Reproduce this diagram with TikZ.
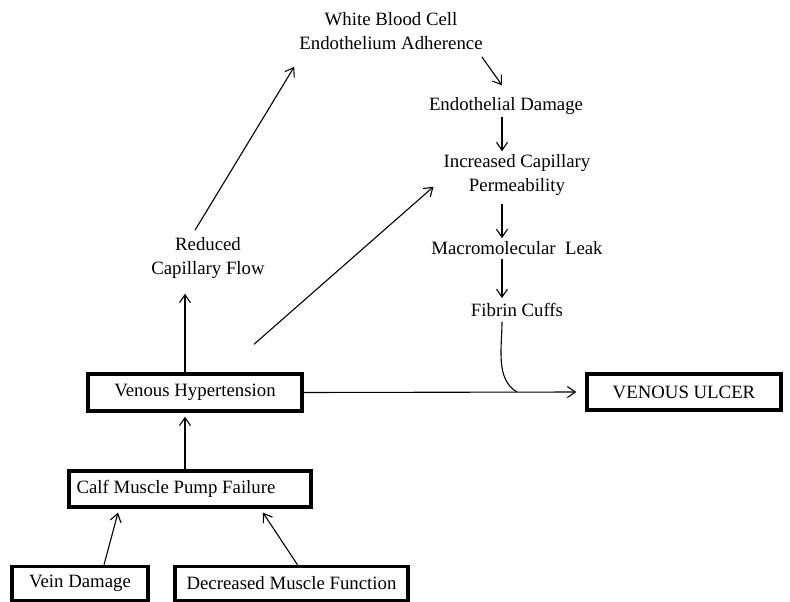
\documentclass[tikz,border=0pt]{standalone}
\usepackage{fontspec}
\setmainfont{Liberation Serif}
\usepackage{tikz}
\usetikzlibrary{arrows.meta, positioning, calc}

\begin{document}
\begin{tikzpicture}[x=1pt, y=1pt]
  \tikzstyle{boxnode}=[rectangle, draw, line width=3.4pt, minimum height=34pt,
    inner sep=0pt, text centered, font=\rmfamily\fontsize{18.8}{24}\selectfont]
  \tikzstyle{plain}=[inner sep=0pt, align=center, font=\rmfamily\fontsize{18.8}{24}\selectfont]
  \tikzstyle{arr}=[-{Straight Barb[length=8pt, width=11pt]}, line width=1.1pt]
  \useasboundingbox (0,0) rectangle (790,602);
  \node[boxnode, minimum width=136pt] (vd) at (80,18.5) {Vein Damage};
  \node[boxnode, minimum width=233pt] (dmf) at (291.5,18.5) {Decreased Muscle Function};
  \node[boxnode, minimum width=242pt, minimum height=36pt] (calf) at (190,113)
    {\hspace*{-28pt}Calf Muscle Pump Failure};
  \node[boxnode, minimum width=214pt, minimum height=37pt] (vh) at (195,209.5)
    {Venous Hypertension};
  \node[boxnode, minimum width=194pt, minimum height=36pt] (ulcer) at (684,210)
    {VENOUS ULCER};
  \node[plain] (rcf) at (208,344) {Reduced\\Capillary Flow};
  \node[plain] (wbc) at (391,571) {White Blood Cell\\Endothelium Adherence};
  \node[plain] (ed) at (506,496) {Endothelial Damage};
  \node[plain] (icp) at (517,427) {Increased Capillary\\Permeability};
  \node[plain] (ml) at (517,354) {Macromolecular\ \ Leak};
  \node[plain] (fc) at (517,292) {Fibrin Cuffs};
  \coordinate (join) at (517,210);
  \draw[arr] ([shift={(24,0)}]vd.north) -- ([shift={(-72,-4)}]calf.south);
  \draw[arr] ([shift={(6,0)}]dmf.north) -- ([shift={(73,-4)}]calf.south);
  \draw[arr] ([shift={(-5,0)}]calf.north) -- ([shift={(-10,-4)}]vh.south);
  \draw[arr] ([shift={(-10,0)}]vh.north) -- ([shift={(-23,-15)}]rcf.south);
  \draw[arr] ([shift={(-13,7)}]rcf.north) -- ([shift={(-5,-17)}]wbc.south west);
  \draw[arr] ([shift={(-1,-7)}]wbc.south east) -- ([shift={(-4,12)}]ed.north);
  \draw[arr] ([shift={(-4,-2)}]ed.south) -- ([shift={(-15,3)}]icp.north);
  \draw[arr] ([shift={(-15,-8)}]icp.south) -- ([shift={(-15,3)}]ml.north);
  \draw[arr] ([shift={(-15,-4)}]ml.south) -- ([shift={(-15,5)}]fc.north);
  \draw[arr] ([shift={(59,28)}]vh.north) -- ([shift={(-10,9)}]icp.south west);
  \draw[arr, shorten >=9pt] (vh.east) -- (ulcer.west);
  \draw[line width=1.1pt] ([shift={(-15,-5)}]fc.south) to[out=-90, in=150, looseness=0.9] (join);
\end{tikzpicture}
\end{document}
